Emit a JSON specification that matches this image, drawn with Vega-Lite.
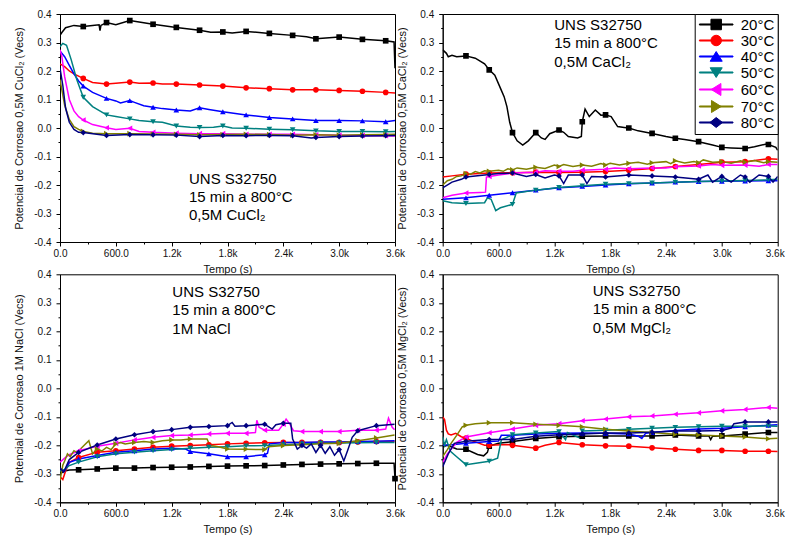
{
"$schema":"https://vega.github.io/schema/vega-lite/v6.json",
"padding":{"left":13,"top":8,"right":0,"bottom":5},
"bounds":"flush",
"spacing":{"row":32.3,"column":47.7},
"columns":2,
"resolve":{"legend":{"color":"independent","shape":"independent","stroke":"independent"}},
"config":{
 "font":"Liberation Sans",
 "view":{"stroke":"#000","strokeWidth":1},
 "axis":{"domainColor":"#000","tickColor":"#000","labelFontSize":10,"labelColor":"#111","titleFontSize":11,"titleFontWeight":"normal","titleColor":"#111","grid":false,"labelFont":"Liberation Sans","titleFont":"Liberation Sans","labelFlush":false,"labelOverlap":false},
 "axisX":{"labelPadding":2,"titlePadding":5},
 "axisY":{"labelPadding":5,"titlePadding":9}
},
"datasets":{
"cucl2":[
{"T":"20°C","t":0,"v":0.325},{"T":"20°C","t":20,"v":0.335},{"T":"20°C","t":60,"v":0.352},{"T":"20°C","t":150,"v":0.36},{"T":"20°C","t":250,"v":0.356},{"T":"20°C","t":350,"v":0.36},{"T":"20°C","t":420,"v":0.362},{"T":"20°C","t":430,"v":0.342},{"T":"20°C","t":440,"v":0.36},{"T":"20°C","t":500,"v":0.37},{"T":"20°C","t":600,"v":0.362},{"T":"20°C","t":750,"v":0.377},{"T":"20°C","t":850,"v":0.372},{"T":"20°C","t":1000,"v":0.364},{"T":"20°C","t":1250,"v":0.353},{"T":"20°C","t":1500,"v":0.343},{"T":"20°C","t":1620,"v":0.336},{"T":"20°C","t":1750,"v":0.337},{"T":"20°C","t":1850,"v":0.333},{"T":"20°C","t":2000,"v":0.339},{"T":"20°C","t":2250,"v":0.332},{"T":"20°C","t":2500,"v":0.325},{"T":"20°C","t":2650,"v":0.32},{"T":"20°C","t":2750,"v":0.313},{"T":"20°C","t":3000,"v":0.319},{"T":"20°C","t":3250,"v":0.311},{"T":"20°C","t":3500,"v":0.306},{"T":"20°C","t":3590,"v":0.302},{"T":"20°C","t":3600,"v":0.21},
{"T":"30°C","t":0,"v":0.225},{"T":"30°C","t":50,"v":0.215},{"T":"30°C","t":100,"v":0.2},{"T":"30°C","t":150,"v":0.19},{"T":"30°C","t":250,"v":0.174},{"T":"30°C","t":350,"v":0.16},{"T":"30°C","t":500,"v":0.154},{"T":"30°C","t":600,"v":0.157},{"T":"30°C","t":750,"v":0.161},{"T":"30°C","t":850,"v":0.157},{"T":"30°C","t":1000,"v":0.158},{"T":"30°C","t":1100,"v":0.154},{"T":"30°C","t":1250,"v":0.154},{"T":"30°C","t":1500,"v":0.151},{"T":"30°C","t":1750,"v":0.147},{"T":"30°C","t":2000,"v":0.141},{"T":"30°C","t":2250,"v":0.138},{"T":"30°C","t":2500,"v":0.134},{"T":"30°C","t":2750,"v":0.134},{"T":"30°C","t":3000,"v":0.132},{"T":"30°C","t":3250,"v":0.129},{"T":"30°C","t":3500,"v":0.125},{"T":"30°C","t":3600,"v":0.123},
{"T":"40°C","t":0,"v":0.27},{"T":"40°C","t":50,"v":0.25},{"T":"40°C","t":100,"v":0.22},{"T":"40°C","t":150,"v":0.19},{"T":"40°C","t":200,"v":0.165},{"T":"40°C","t":250,"v":0.147},{"T":"40°C","t":350,"v":0.125},{"T":"40°C","t":500,"v":0.104},{"T":"40°C","t":600,"v":0.095},{"T":"40°C","t":650,"v":0.088},{"T":"40°C","t":750,"v":0.096},{"T":"40°C","t":800,"v":0.09},{"T":"40°C","t":900,"v":0.078},{"T":"40°C","t":1000,"v":0.073},{"T":"40°C","t":1100,"v":0.068},{"T":"40°C","t":1250,"v":0.063},{"T":"40°C","t":1400,"v":0.06},{"T":"40°C","t":1500,"v":0.071},{"T":"40°C","t":1600,"v":0.065},{"T":"40°C","t":1750,"v":0.057},{"T":"40°C","t":2000,"v":0.046},{"T":"40°C","t":2250,"v":0.037},{"T":"40°C","t":2500,"v":0.032},{"T":"40°C","t":2750,"v":0.026},{"T":"40°C","t":3000,"v":0.026},{"T":"40°C","t":3250,"v":0.025},{"T":"40°C","t":3500,"v":0.022},{"T":"40°C","t":3600,"v":0.026},
{"T":"50°C","t":0,"v":0.285},{"T":"50°C","t":30,"v":0.297},{"T":"50°C","t":70,"v":0.29},{"T":"50°C","t":120,"v":0.24},{"T":"50°C","t":180,"v":0.17},{"T":"50°C","t":250,"v":0.108},{"T":"50°C","t":350,"v":0.075},{"T":"50°C","t":500,"v":0.046},{"T":"50°C","t":600,"v":0.04},{"T":"50°C","t":750,"v":0.032},{"T":"50°C","t":850,"v":0.026},{"T":"50°C","t":1000,"v":0.022},{"T":"50°C","t":1100,"v":0.02},{"T":"50°C","t":1250,"v":0.007},{"T":"50°C","t":1400,"v":0.003},{"T":"50°C","t":1500,"v":0.002},{"T":"50°C","t":1650,"v":0.003},{"T":"50°C","t":1750,"v":0.007},{"T":"50°C","t":1850,"v":0.0},{"T":"50°C","t":2000,"v":-0.001},{"T":"50°C","t":2250,"v":-0.004},{"T":"50°C","t":2500,"v":-0.006},{"T":"50°C","t":2750,"v":-0.01},{"T":"50°C","t":3000,"v":-0.012},{"T":"50°C","t":3250,"v":-0.012},{"T":"50°C","t":3500,"v":-0.013},{"T":"50°C","t":3600,"v":-0.012},
{"T":"60°C","t":0,"v":0.275},{"T":"60°C","t":20,"v":0.25},{"T":"60°C","t":50,"v":0.18},{"T":"60°C","t":100,"v":0.1},{"T":"60°C","t":150,"v":0.06},{"T":"60°C","t":200,"v":0.04},{"T":"60°C","t":250,"v":0.028},{"T":"60°C","t":350,"v":0.012},{"T":"60°C","t":500,"v":0.001},{"T":"60°C","t":600,"v":-0.005},{"T":"60°C","t":750,"v":-0.001},{"T":"60°C","t":850,"v":-0.012},{"T":"60°C","t":1000,"v":-0.015},{"T":"60°C","t":1250,"v":-0.018},{"T":"60°C","t":1500,"v":-0.02},{"T":"60°C","t":1750,"v":-0.02},{"T":"60°C","t":2000,"v":-0.022},{"T":"60°C","t":2250,"v":-0.022},{"T":"60°C","t":2500,"v":-0.022},{"T":"60°C","t":2750,"v":-0.024},{"T":"60°C","t":3000,"v":-0.025},{"T":"60°C","t":3250,"v":-0.026},{"T":"60°C","t":3500,"v":-0.027},{"T":"60°C","t":3600,"v":-0.028},
{"T":"70°C","t":0,"v":0.17},{"T":"70°C","t":50,"v":0.08},{"T":"70°C","t":100,"v":0.03},{"T":"70°C","t":150,"v":0.005},{"T":"70°C","t":200,"v":-0.005},{"T":"70°C","t":250,"v":-0.012},{"T":"70°C","t":350,"v":-0.018},{"T":"70°C","t":500,"v":-0.02},{"T":"70°C","t":750,"v":-0.02},{"T":"70°C","t":1000,"v":-0.021},{"T":"70°C","t":1250,"v":-0.022},{"T":"70°C","t":1500,"v":-0.024},{"T":"70°C","t":1750,"v":-0.023},{"T":"70°C","t":2000,"v":-0.022},{"T":"70°C","t":2250,"v":-0.023},{"T":"70°C","t":2500,"v":-0.025},{"T":"70°C","t":2750,"v":-0.024},{"T":"70°C","t":3000,"v":-0.025},{"T":"70°C","t":3250,"v":-0.024},{"T":"70°C","t":3500,"v":-0.023},{"T":"70°C","t":3600,"v":-0.022},
{"T":"80°C","t":0,"v":0.21},{"T":"80°C","t":30,"v":0.15},{"T":"80°C","t":60,"v":0.07},{"T":"80°C","t":100,"v":0.02},{"T":"80°C","t":150,"v":-0.005},{"T":"80°C","t":200,"v":-0.015},{"T":"80°C","t":250,"v":-0.016},{"T":"80°C","t":500,"v":-0.026},{"T":"80°C","t":750,"v":-0.023},{"T":"80°C","t":1000,"v":-0.024},{"T":"80°C","t":1250,"v":-0.025},{"T":"80°C","t":1500,"v":-0.03},{"T":"80°C","t":1750,"v":-0.026},{"T":"80°C","t":2000,"v":-0.027},{"T":"80°C","t":2250,"v":-0.026},{"T":"80°C","t":2500,"v":-0.027},{"T":"80°C","t":2700,"v":-0.035},{"T":"80°C","t":2750,"v":-0.033},{"T":"80°C","t":3000,"v":-0.03},{"T":"80°C","t":3250,"v":-0.028},{"T":"80°C","t":3500,"v":-0.027},{"T":"80°C","t":3600,"v":-0.026}
],
"cacl2":[
{"T":"20°C","t":0,"v":0.274},{"T":"20°C","t":40,"v":0.262},{"T":"20°C","t":60,"v":0.25},{"T":"20°C","t":100,"v":0.255},{"T":"20°C","t":150,"v":0.25},{"T":"20°C","t":250,"v":0.253},{"T":"20°C","t":350,"v":0.245},{"T":"20°C","t":450,"v":0.225},{"T":"20°C","t":500,"v":0.204},{"T":"20°C","t":560,"v":0.185},{"T":"20°C","t":620,"v":0.14},{"T":"20°C","t":660,"v":0.11},{"T":"20°C","t":690,"v":0.075},{"T":"20°C","t":720,"v":0.02},{"T":"20°C","t":750,"v":-0.016},{"T":"20°C","t":800,"v":-0.045},{"T":"20°C","t":860,"v":-0.06},{"T":"20°C","t":920,"v":-0.045},{"T":"20°C","t":1000,"v":-0.016},{"T":"20°C","t":1060,"v":-0.035},{"T":"20°C","t":1100,"v":-0.04},{"T":"20°C","t":1150,"v":-0.02},{"T":"20°C","t":1250,"v":-0.007},{"T":"20°C","t":1300,"v":-0.015},{"T":"20°C","t":1350,"v":-0.03},{"T":"20°C","t":1450,"v":-0.035},{"T":"20°C","t":1490,"v":-0.03},{"T":"20°C","t":1500,"v":0.022},{"T":"20°C","t":1530,"v":0.066},{"T":"20°C","t":1575,"v":0.04},{"T":"20°C","t":1640,"v":0.063},{"T":"20°C","t":1700,"v":0.045},{"T":"20°C","t":1750,"v":0.046},{"T":"20°C","t":1810,"v":0.04},{"T":"20°C","t":1880,"v":0.005},{"T":"20°C","t":1950,"v":0.002},{"T":"20°C","t":2000,"v":0.0},{"T":"20°C","t":2100,"v":-0.01},{"T":"20°C","t":2250,"v":-0.019},{"T":"20°C","t":2400,"v":-0.03},{"T":"20°C","t":2500,"v":-0.036},{"T":"20°C","t":2600,"v":-0.04},{"T":"20°C","t":2750,"v":-0.048},{"T":"20°C","t":2900,"v":-0.06},{"T":"20°C","t":3000,"v":-0.068},{"T":"20°C","t":3100,"v":-0.07},{"T":"20°C","t":3250,"v":-0.072},{"T":"20°C","t":3350,"v":-0.066},{"T":"20°C","t":3480,"v":-0.056},{"T":"20°C","t":3500,"v":-0.058},{"T":"20°C","t":3580,"v":-0.068},{"T":"20°C","t":3600,"v":-0.078},
{"T":"30°C","t":0,"v":-0.172},{"T":"30°C","t":100,"v":-0.168},{"T":"30°C","t":250,"v":-0.162},{"T":"30°C","t":500,"v":-0.158},{"T":"30°C","t":750,"v":-0.157},{"T":"30°C","t":1000,"v":-0.155},{"T":"30°C","t":1250,"v":-0.156},{"T":"30°C","t":1500,"v":-0.155},{"T":"30°C","t":1750,"v":-0.153},{"T":"30°C","t":2000,"v":-0.148},{"T":"30°C","t":2250,"v":-0.142},{"T":"30°C","t":2500,"v":-0.135},{"T":"30°C","t":2750,"v":-0.128},{"T":"30°C","t":3000,"v":-0.12},{"T":"30°C","t":3250,"v":-0.118},{"T":"30°C","t":3500,"v":-0.108},{"T":"30°C","t":3600,"v":-0.11},
{"T":"40°C","t":0,"v":-0.25},{"T":"40°C","t":250,"v":-0.245},{"T":"40°C","t":500,"v":-0.236},{"T":"40°C","t":750,"v":-0.227},{"T":"40°C","t":1000,"v":-0.218},{"T":"40°C","t":1250,"v":-0.21},{"T":"40°C","t":1500,"v":-0.205},{"T":"40°C","t":1750,"v":-0.2},{"T":"40°C","t":2000,"v":-0.196},{"T":"40°C","t":2250,"v":-0.193},{"T":"40°C","t":2500,"v":-0.19},{"T":"40°C","t":2750,"v":-0.188},{"T":"40°C","t":3000,"v":-0.187},{"T":"40°C","t":3250,"v":-0.186},{"T":"40°C","t":3500,"v":-0.185},{"T":"40°C","t":3600,"v":-0.185},
{"T":"50°C","t":0,"v":-0.255},{"T":"50°C","t":100,"v":-0.262},{"T":"50°C","t":250,"v":-0.265},{"T":"50°C","t":450,"v":-0.262},{"T":"50°C","t":480,"v":-0.245},{"T":"50°C","t":520,"v":-0.25},{"T":"50°C","t":570,"v":-0.29},{"T":"50°C","t":620,"v":-0.28},{"T":"50°C","t":750,"v":-0.268},{"T":"50°C","t":790,"v":-0.228},{"T":"50°C","t":1000,"v":-0.218},{"T":"50°C","t":1250,"v":-0.209},{"T":"50°C","t":1500,"v":-0.203},{"T":"50°C","t":1750,"v":-0.197},{"T":"50°C","t":2000,"v":-0.195},{"T":"50°C","t":2250,"v":-0.193},{"T":"50°C","t":2500,"v":-0.19},{"T":"50°C","t":2750,"v":-0.188},{"T":"50°C","t":3000,"v":-0.186},{"T":"50°C","t":3250,"v":-0.184},{"T":"50°C","t":3500,"v":-0.182},{"T":"50°C","t":3600,"v":-0.18},
{"T":"60°C","t":0,"v":-0.245},{"T":"60°C","t":100,"v":-0.236},{"T":"60°C","t":250,"v":-0.228},{"T":"60°C","t":400,"v":-0.226},{"T":"60°C","t":460,"v":-0.225},{"T":"60°C","t":470,"v":-0.172},{"T":"60°C","t":500,"v":-0.17},{"T":"60°C","t":600,"v":-0.165},{"T":"60°C","t":750,"v":-0.158},{"T":"60°C","t":1000,"v":-0.155},{"T":"60°C","t":1100,"v":-0.15},{"T":"60°C","t":1250,"v":-0.152},{"T":"60°C","t":1400,"v":-0.152},{"T":"60°C","t":1500,"v":-0.148},{"T":"60°C","t":1750,"v":-0.145},{"T":"60°C","t":1850,"v":-0.14},{"T":"60°C","t":2000,"v":-0.143},{"T":"60°C","t":2250,"v":-0.14},{"T":"60°C","t":2400,"v":-0.14},{"T":"60°C","t":2500,"v":-0.136},{"T":"60°C","t":2750,"v":-0.133},{"T":"60°C","t":2900,"v":-0.128},{"T":"60°C","t":3000,"v":-0.131},{"T":"60°C","t":3250,"v":-0.13},{"T":"60°C","t":3400,"v":-0.134},{"T":"60°C","t":3500,"v":-0.128},{"T":"60°C","t":3600,"v":-0.128},
{"T":"70°C","t":0,"v":-0.2},{"T":"70°C","t":50,"v":-0.185},{"T":"70°C","t":100,"v":-0.18},{"T":"70°C","t":150,"v":-0.17},{"T":"70°C","t":200,"v":-0.168},{"T":"70°C","t":250,"v":-0.16},{"T":"70°C","t":300,"v":-0.162},{"T":"70°C","t":350,"v":-0.153},{"T":"70°C","t":400,"v":-0.158},{"T":"70°C","t":450,"v":-0.15},{"T":"70°C","t":500,"v":-0.152},{"T":"70°C","t":600,"v":-0.148},{"T":"70°C","t":650,"v":-0.152},{"T":"70°C","t":700,"v":-0.143},{"T":"70°C","t":750,"v":-0.147},{"T":"70°C","t":800,"v":-0.14},{"T":"70°C","t":900,"v":-0.145},{"T":"70°C","t":1000,"v":-0.138},{"T":"70°C","t":1100,"v":-0.142},{"T":"70°C","t":1200,"v":-0.13},{"T":"70°C","t":1250,"v":-0.135},{"T":"70°C","t":1300,"v":-0.128},{"T":"70°C","t":1400,"v":-0.135},{"T":"70°C","t":1500,"v":-0.13},{"T":"70°C","t":1600,"v":-0.134},{"T":"70°C","t":1700,"v":-0.125},{"T":"70°C","t":1750,"v":-0.13},{"T":"70°C","t":1800,"v":-0.124},{"T":"70°C","t":1900,"v":-0.13},{"T":"70°C","t":2000,"v":-0.124},{"T":"70°C","t":2100,"v":-0.12},{"T":"70°C","t":2200,"v":-0.127},{"T":"70°C","t":2250,"v":-0.122},{"T":"70°C","t":2400,"v":-0.118},{"T":"70°C","t":2450,"v":-0.125},{"T":"70°C","t":2500,"v":-0.115},{"T":"70°C","t":2600,"v":-0.123},{"T":"70°C","t":2700,"v":-0.118},{"T":"70°C","t":2750,"v":-0.122},{"T":"70°C","t":2800,"v":-0.112},{"T":"70°C","t":2900,"v":-0.12},{"T":"70°C","t":3000,"v":-0.118},{"T":"70°C","t":3100,"v":-0.124},{"T":"70°C","t":3200,"v":-0.115},{"T":"70°C","t":3250,"v":-0.12},{"T":"70°C","t":3350,"v":-0.114},{"T":"70°C","t":3450,"v":-0.122},{"T":"70°C","t":3500,"v":-0.118},{"T":"70°C","t":3600,"v":-0.12},
{"T":"80°C","t":0,"v":-0.21},{"T":"80°C","t":100,"v":-0.19},{"T":"80°C","t":200,"v":-0.18},{"T":"80°C","t":250,"v":-0.172},{"T":"80°C","t":300,"v":-0.17},{"T":"80°C","t":450,"v":-0.165},{"T":"80°C","t":500,"v":-0.163},{"T":"80°C","t":600,"v":-0.16},{"T":"80°C","t":750,"v":-0.158},{"T":"80°C","t":900,"v":-0.17},{"T":"80°C","t":1000,"v":-0.163},{"T":"80°C","t":1100,"v":-0.175},{"T":"80°C","t":1200,"v":-0.165},{"T":"80°C","t":1250,"v":-0.168},{"T":"80°C","t":1300,"v":-0.195},{"T":"80°C","t":1350,"v":-0.165},{"T":"80°C","t":1500,"v":-0.165},{"T":"80°C","t":1550,"v":-0.195},{"T":"80°C","t":1600,"v":-0.17},{"T":"80°C","t":1750,"v":-0.172},{"T":"80°C","t":2000,"v":-0.165},{"T":"80°C","t":2250,"v":-0.168},{"T":"80°C","t":2500,"v":-0.172},{"T":"80°C","t":2750,"v":-0.18},{"T":"80°C","t":2850,"v":-0.165},{"T":"80°C","t":2900,"v":-0.19},{"T":"80°C","t":3000,"v":-0.17},{"T":"80°C","t":3100,"v":-0.19},{"T":"80°C","t":3200,"v":-0.165},{"T":"80°C","t":3250,"v":-0.172},{"T":"80°C","t":3300,"v":-0.19},{"T":"80°C","t":3400,"v":-0.165},{"T":"80°C","t":3500,"v":-0.17},{"T":"80°C","t":3550,"v":-0.19},{"T":"80°C","t":3600,"v":-0.17}
],
"nacl":[
{"T":"20°C","t":0,"v":-0.3},{"T":"20°C","t":50,"v":-0.29},{"T":"20°C","t":100,"v":-0.287},{"T":"20°C","t":200,"v":-0.286},{"T":"20°C","t":400,"v":-0.283},{"T":"20°C","t":600,"v":-0.28},{"T":"20°C","t":800,"v":-0.28},{"T":"20°C","t":1000,"v":-0.278},{"T":"20°C","t":1200,"v":-0.277},{"T":"20°C","t":1400,"v":-0.276},{"T":"20°C","t":1600,"v":-0.274},{"T":"20°C","t":1800,"v":-0.273},{"T":"20°C","t":2000,"v":-0.272},{"T":"20°C","t":2200,"v":-0.271},{"T":"20°C","t":2400,"v":-0.269},{"T":"20°C","t":2600,"v":-0.267},{"T":"20°C","t":2800,"v":-0.266},{"T":"20°C","t":3000,"v":-0.265},{"T":"20°C","t":3200,"v":-0.264},{"T":"20°C","t":3400,"v":-0.263},{"T":"20°C","t":3590,"v":-0.263},{"T":"20°C","t":3600,"v":-0.317},
{"T":"30°C","t":0,"v":-0.31},{"T":"30°C","t":30,"v":-0.32},{"T":"30°C","t":60,"v":-0.29},{"T":"30°C","t":100,"v":-0.26},{"T":"30°C","t":200,"v":-0.243},{"T":"30°C","t":400,"v":-0.224},{"T":"30°C","t":600,"v":-0.219},{"T":"30°C","t":800,"v":-0.213},{"T":"30°C","t":1000,"v":-0.207},{"T":"30°C","t":1200,"v":-0.203},{"T":"30°C","t":1400,"v":-0.201},{"T":"30°C","t":1600,"v":-0.198},{"T":"30°C","t":1800,"v":-0.195},{"T":"30°C","t":2000,"v":-0.193},{"T":"30°C","t":2200,"v":-0.191},{"T":"30°C","t":2400,"v":-0.19},{"T":"30°C","t":2600,"v":-0.19},{"T":"30°C","t":2800,"v":-0.19},{"T":"30°C","t":3000,"v":-0.19},{"T":"30°C","t":3200,"v":-0.188},{"T":"30°C","t":3400,"v":-0.187},{"T":"30°C","t":3595,"v":-0.186},
{"T":"40°C","t":0,"v":-0.288},{"T":"40°C","t":50,"v":-0.29},{"T":"40°C","t":100,"v":-0.26},{"T":"40°C","t":200,"v":-0.248},{"T":"40°C","t":400,"v":-0.236},{"T":"40°C","t":600,"v":-0.224},{"T":"40°C","t":800,"v":-0.219},{"T":"40°C","t":1000,"v":-0.213},{"T":"40°C","t":1200,"v":-0.21},{"T":"40°C","t":1350,"v":-0.213},{"T":"40°C","t":1400,"v":-0.222},{"T":"40°C","t":1600,"v":-0.23},{"T":"40°C","t":1800,"v":-0.24},{"T":"40°C","t":2000,"v":-0.24},{"T":"40°C","t":2200,"v":-0.233},{"T":"40°C","t":2230,"v":-0.228},{"T":"40°C","t":2250,"v":-0.195},{"T":"40°C","t":2400,"v":-0.19},{"T":"40°C","t":2600,"v":-0.19},{"T":"40°C","t":2800,"v":-0.188},{"T":"40°C","t":3000,"v":-0.188},{"T":"40°C","t":3200,"v":-0.187},{"T":"40°C","t":3400,"v":-0.186},{"T":"40°C","t":3595,"v":-0.184},
{"T":"50°C","t":0,"v":-0.29},{"T":"50°C","t":50,"v":-0.285},{"T":"50°C","t":100,"v":-0.271},{"T":"50°C","t":200,"v":-0.259},{"T":"50°C","t":400,"v":-0.24},{"T":"50°C","t":600,"v":-0.23},{"T":"50°C","t":800,"v":-0.224},{"T":"50°C","t":1000,"v":-0.219},{"T":"50°C","t":1200,"v":-0.215},{"T":"50°C","t":1400,"v":-0.21},{"T":"50°C","t":1600,"v":-0.207},{"T":"50°C","t":1800,"v":-0.205},{"T":"50°C","t":2000,"v":-0.202},{"T":"50°C","t":2200,"v":-0.201},{"T":"50°C","t":2400,"v":-0.198},{"T":"50°C","t":2600,"v":-0.195},{"T":"50°C","t":2800,"v":-0.193},{"T":"50°C","t":3000,"v":-0.192},{"T":"50°C","t":3200,"v":-0.191},{"T":"50°C","t":3400,"v":-0.19},{"T":"50°C","t":3595,"v":-0.19},
{"T":"60°C","t":0,"v":-0.259},{"T":"60°C","t":50,"v":-0.245},{"T":"60°C","t":100,"v":-0.233},{"T":"60°C","t":200,"v":-0.219},{"T":"60°C","t":400,"v":-0.203},{"T":"60°C","t":600,"v":-0.193},{"T":"60°C","t":800,"v":-0.181},{"T":"60°C","t":1000,"v":-0.172},{"T":"60°C","t":1200,"v":-0.166},{"T":"60°C","t":1400,"v":-0.164},{"T":"60°C","t":1600,"v":-0.16},{"T":"60°C","t":1800,"v":-0.158},{"T":"60°C","t":2000,"v":-0.158},{"T":"60°C","t":2100,"v":-0.155},{"T":"60°C","t":2115,"v":-0.112},{"T":"60°C","t":2140,"v":-0.137},{"T":"60°C","t":2200,"v":-0.147},{"T":"60°C","t":2350,"v":-0.147},{"T":"60°C","t":2400,"v":-0.126},{"T":"60°C","t":2430,"v":-0.108},{"T":"60°C","t":2470,"v":-0.126},{"T":"60°C","t":2510,"v":-0.149},{"T":"60°C","t":2600,"v":-0.152},{"T":"60°C","t":2800,"v":-0.152},{"T":"60°C","t":3000,"v":-0.152},{"T":"60°C","t":3200,"v":-0.147},{"T":"60°C","t":3400,"v":-0.147},{"T":"60°C","t":3500,"v":-0.143},{"T":"60°C","t":3530,"v":-0.105},{"T":"60°C","t":3570,"v":-0.137},{"T":"60°C","t":3595,"v":-0.145},
{"T":"70°C","t":0,"v":-0.323},{"T":"70°C","t":30,"v":-0.27},{"T":"70°C","t":50,"v":-0.255},{"T":"70°C","t":80,"v":-0.23},{"T":"70°C","t":110,"v":-0.24},{"T":"70°C","t":150,"v":-0.219},{"T":"70°C","t":180,"v":-0.225},{"T":"70°C","t":220,"v":-0.213},{"T":"70°C","t":260,"v":-0.2},{"T":"70°C","t":310,"v":-0.184},{"T":"70°C","t":350,"v":-0.23},{"T":"70°C","t":400,"v":-0.213},{"T":"70°C","t":450,"v":-0.22},{"T":"70°C","t":500,"v":-0.207},{"T":"70°C","t":550,"v":-0.215},{"T":"70°C","t":600,"v":-0.195},{"T":"70°C","t":650,"v":-0.19},{"T":"70°C","t":700,"v":-0.195},{"T":"70°C","t":800,"v":-0.19},{"T":"70°C","t":900,"v":-0.187},{"T":"70°C","t":1000,"v":-0.19},{"T":"70°C","t":1100,"v":-0.184},{"T":"70°C","t":1200,"v":-0.181},{"T":"70°C","t":1300,"v":-0.181},{"T":"70°C","t":1400,"v":-0.178},{"T":"70°C","t":1500,"v":-0.178},{"T":"70°C","t":1580,"v":-0.178},{"T":"70°C","t":1610,"v":-0.2},{"T":"70°C","t":1700,"v":-0.205},{"T":"70°C","t":1800,"v":-0.213},{"T":"70°C","t":2000,"v":-0.214},{"T":"70°C","t":2200,"v":-0.215},{"T":"70°C","t":2240,"v":-0.205},{"T":"70°C","t":2400,"v":-0.201},{"T":"70°C","t":2600,"v":-0.198},{"T":"70°C","t":2800,"v":-0.195},{"T":"70°C","t":3000,"v":-0.193},{"T":"70°C","t":3200,"v":-0.184},{"T":"70°C","t":3400,"v":-0.174},{"T":"70°C","t":3595,"v":-0.164},
{"T":"80°C","t":0,"v":-0.279},{"T":"80°C","t":40,"v":-0.294},{"T":"80°C","t":100,"v":-0.25},{"T":"80°C","t":200,"v":-0.225},{"T":"80°C","t":400,"v":-0.199},{"T":"80°C","t":600,"v":-0.178},{"T":"80°C","t":800,"v":-0.163},{"T":"80°C","t":1000,"v":-0.152},{"T":"80°C","t":1200,"v":-0.145},{"T":"80°C","t":1400,"v":-0.137},{"T":"80°C","t":1600,"v":-0.134},{"T":"80°C","t":1800,"v":-0.131},{"T":"80°C","t":1850,"v":-0.12},{"T":"80°C","t":1880,"v":-0.133},{"T":"80°C","t":2000,"v":-0.131},{"T":"80°C","t":2200,"v":-0.126},{"T":"80°C","t":2280,"v":-0.143},{"T":"80°C","t":2320,"v":-0.128},{"T":"80°C","t":2400,"v":-0.123},{"T":"80°C","t":2480,"v":-0.123},{"T":"80°C","t":2500,"v":-0.178},{"T":"80°C","t":2550,"v":-0.213},{"T":"80°C","t":2600,"v":-0.2},{"T":"80°C","t":2650,"v":-0.21},{"T":"80°C","t":2700,"v":-0.195},{"T":"80°C","t":2750,"v":-0.225},{"T":"80°C","t":2800,"v":-0.2},{"T":"80°C","t":2850,"v":-0.228},{"T":"80°C","t":2900,"v":-0.205},{"T":"80°C","t":2950,"v":-0.235},{"T":"80°C","t":3000,"v":-0.215},{"T":"80°C","t":3050,"v":-0.255},{"T":"80°C","t":3090,"v":-0.219},{"T":"80°C","t":3140,"v":-0.172},{"T":"80°C","t":3200,"v":-0.149},{"T":"80°C","t":3400,"v":-0.131},{"T":"80°C","t":3595,"v":-0.126}
],
"mgcl2":[
{"T":"20°C","t":0,"v":-0.205},{"T":"20°C","t":50,"v":-0.2},{"T":"20°C","t":150,"v":-0.213},{"T":"20°C","t":250,"v":-0.214},{"T":"20°C","t":375,"v":-0.232},{"T":"20°C","t":440,"v":-0.237},{"T":"20°C","t":480,"v":-0.225},{"T":"20°C","t":500,"v":-0.203},{"T":"20°C","t":600,"v":-0.193},{"T":"20°C","t":750,"v":-0.187},{"T":"20°C","t":1000,"v":-0.176},{"T":"20°C","t":1250,"v":-0.17},{"T":"20°C","t":1500,"v":-0.168},{"T":"20°C","t":1750,"v":-0.167},{"T":"20°C","t":2000,"v":-0.167},{"T":"20°C","t":2250,"v":-0.167},{"T":"20°C","t":2500,"v":-0.164},{"T":"20°C","t":2750,"v":-0.167},{"T":"20°C","t":2860,"v":-0.167},{"T":"20°C","t":2880,"v":-0.18},{"T":"20°C","t":2900,"v":-0.168},{"T":"20°C","t":3000,"v":-0.167},{"T":"20°C","t":3250,"v":-0.161},{"T":"20°C","t":3500,"v":-0.155},{"T":"20°C","t":3600,"v":-0.155},
{"T":"30°C","t":0,"v":-0.1},{"T":"30°C","t":20,"v":-0.11},{"T":"30°C","t":40,"v":-0.147},{"T":"30°C","t":60,"v":-0.16},{"T":"30°C","t":90,"v":-0.164},{"T":"30°C","t":140,"v":-0.158},{"T":"30°C","t":200,"v":-0.17},{"T":"30°C","t":250,"v":-0.175},{"T":"30°C","t":300,"v":-0.182},{"T":"30°C","t":450,"v":-0.2},{"T":"30°C","t":500,"v":-0.2},{"T":"30°C","t":700,"v":-0.197},{"T":"30°C","t":750,"v":-0.2},{"T":"30°C","t":1000,"v":-0.21},{"T":"30°C","t":1100,"v":-0.2},{"T":"30°C","t":1250,"v":-0.19},{"T":"30°C","t":1500,"v":-0.198},{"T":"30°C","t":1750,"v":-0.202},{"T":"30°C","t":2000,"v":-0.203},{"T":"30°C","t":2250,"v":-0.209},{"T":"30°C","t":2500,"v":-0.214},{"T":"30°C","t":2750,"v":-0.218},{"T":"30°C","t":3000,"v":-0.218},{"T":"30°C","t":3250,"v":-0.221},{"T":"30°C","t":3500,"v":-0.221},{"T":"30°C","t":3600,"v":-0.222},
{"T":"40°C","t":0,"v":-0.2},{"T":"40°C","t":100,"v":-0.198},{"T":"40°C","t":250,"v":-0.193},{"T":"40°C","t":500,"v":-0.187},{"T":"40°C","t":600,"v":-0.185},{"T":"40°C","t":630,"v":-0.165},{"T":"40°C","t":750,"v":-0.165},{"T":"40°C","t":1000,"v":-0.16},{"T":"40°C","t":1250,"v":-0.158},{"T":"40°C","t":1500,"v":-0.157},{"T":"40°C","t":1750,"v":-0.158},{"T":"40°C","t":2000,"v":-0.16},{"T":"40°C","t":2100,"v":-0.168},{"T":"40°C","t":2140,"v":-0.176},{"T":"40°C","t":2180,"v":-0.158},{"T":"40°C","t":2250,"v":-0.155},{"T":"40°C","t":2500,"v":-0.148},{"T":"40°C","t":2750,"v":-0.143},{"T":"40°C","t":3000,"v":-0.14},{"T":"40°C","t":3250,"v":-0.135},{"T":"40°C","t":3500,"v":-0.13},{"T":"40°C","t":3600,"v":-0.128},
{"T":"50°C","t":0,"v":-0.17},{"T":"50°C","t":20,"v":-0.2},{"T":"50°C","t":40,"v":-0.18},{"T":"50°C","t":80,"v":-0.22},{"T":"50°C","t":150,"v":-0.24},{"T":"50°C","t":250,"v":-0.268},{"T":"50°C","t":375,"v":-0.262},{"T":"50°C","t":500,"v":-0.256},{"T":"50°C","t":590,"v":-0.245},{"T":"50°C","t":630,"v":-0.181},{"T":"50°C","t":750,"v":-0.163},{"T":"50°C","t":1000,"v":-0.157},{"T":"50°C","t":1250,"v":-0.152},{"T":"50°C","t":1320,"v":-0.18},{"T":"50°C","t":1340,"v":-0.155},{"T":"50°C","t":1480,"v":-0.175},{"T":"50°C","t":1500,"v":-0.15},{"T":"50°C","t":1750,"v":-0.147},{"T":"50°C","t":2000,"v":-0.144},{"T":"50°C","t":2250,"v":-0.14},{"T":"50°C","t":2500,"v":-0.137},{"T":"50°C","t":2750,"v":-0.135},{"T":"50°C","t":3000,"v":-0.133},{"T":"50°C","t":3250,"v":-0.133},{"T":"50°C","t":3500,"v":-0.132},{"T":"50°C","t":3600,"v":-0.133},
{"T":"60°C","t":0,"v":-0.26},{"T":"60°C","t":50,"v":-0.23},{"T":"60°C","t":100,"v":-0.21},{"T":"60°C","t":150,"v":-0.19},{"T":"60°C","t":250,"v":-0.171},{"T":"60°C","t":500,"v":-0.156},{"T":"60°C","t":750,"v":-0.143},{"T":"60°C","t":1000,"v":-0.13},{"T":"60°C","t":1250,"v":-0.124},{"T":"60°C","t":1500,"v":-0.114},{"T":"60°C","t":1750,"v":-0.108},{"T":"60°C","t":2000,"v":-0.1},{"T":"60°C","t":2250,"v":-0.097},{"T":"60°C","t":2500,"v":-0.091},{"T":"60°C","t":2750,"v":-0.086},{"T":"60°C","t":3000,"v":-0.079},{"T":"60°C","t":3250,"v":-0.074},{"T":"60°C","t":3500,"v":-0.067},{"T":"60°C","t":3600,"v":-0.07},
{"T":"70°C","t":0,"v":-0.24},{"T":"70°C","t":50,"v":-0.215},{"T":"70°C","t":90,"v":-0.193},{"T":"70°C","t":150,"v":-0.165},{"T":"70°C","t":210,"v":-0.135},{"T":"70°C","t":250,"v":-0.13},{"T":"70°C","t":350,"v":-0.124},{"T":"70°C","t":500,"v":-0.121},{"T":"70°C","t":750,"v":-0.121},{"T":"70°C","t":1000,"v":-0.126},{"T":"70°C","t":1250,"v":-0.13},{"T":"70°C","t":1500,"v":-0.135},{"T":"70°C","t":1750,"v":-0.144},{"T":"70°C","t":2000,"v":-0.15},{"T":"70°C","t":2250,"v":-0.155},{"T":"70°C","t":2500,"v":-0.161},{"T":"70°C","t":2750,"v":-0.164},{"T":"70°C","t":3000,"v":-0.167},{"T":"70°C","t":3250,"v":-0.171},{"T":"70°C","t":3500,"v":-0.177},{"T":"70°C","t":3600,"v":-0.175},
{"T":"80°C","t":0,"v":-0.275},{"T":"80°C","t":60,"v":-0.23},{"T":"80°C","t":125,"v":-0.193},{"T":"80°C","t":250,"v":-0.186},{"T":"80°C","t":500,"v":-0.18},{"T":"80°C","t":750,"v":-0.18},{"T":"80°C","t":1000,"v":-0.168},{"T":"80°C","t":1250,"v":-0.163},{"T":"80°C","t":1500,"v":-0.16},{"T":"80°C","t":1750,"v":-0.157},{"T":"80°C","t":2000,"v":-0.157},{"T":"80°C","t":2250,"v":-0.154},{"T":"80°C","t":2500,"v":-0.15},{"T":"80°C","t":2750,"v":-0.15},{"T":"80°C","t":3000,"v":-0.148},{"T":"80°C","t":3100,"v":-0.14},{"T":"80°C","t":3130,"v":-0.124},{"T":"80°C","t":3250,"v":-0.118},{"T":"80°C","t":3500,"v":-0.118},{"T":"80°C","t":3600,"v":-0.118}
]
},
"concat":[
{
 "width":335,"height":228,
 "data":{"name":"cucl2"},
 "encoding":{
  "x":{"field":"t","type":"quantitative","scale":{"domain":[0,3600],"nice":false},"axis":{"title":"Tempo (s)","values":[0,300,600,900,1200,1500,1800,2100,2400,2700,3000,3300,3600],"labelExpr":"datum.value == 0 ? '0.0' : datum.value == 600 ? '600.0' : datum.value % 600 == 0 ? format(datum.value/1000, '.1f') + 'k' : ''","tickSize":{"condition":{"test":"datum.value % 600 != 0","value":2},"value":4}}},
  "y":{"field":"v","type":"quantitative","scale":{"domain":[-0.4,0.4],"nice":false},"axis":{"title":"Potencial de Corrosao 0,5M CuCl₂ (Vecs)","values":[-0.4,-0.35,-0.3,-0.25,-0.2,-0.15,-0.1,-0.05,0,0.05,0.1,0.15,0.2,0.25,0.3,0.35,0.4],"labelExpr":"abs(datum.value*10 - round(datum.value*10)) > 0.001 ? '' : datum.value < 0 ? '-' + format(-datum.value, '.1f') : format(datum.value, '.1f')","tickSize":{"condition":{"test":"abs(datum.value*10 - round(datum.value*10)) > 0.001","value":2},"value":4}}},
  "color":{"field":"T","type":"nominal","scale":{"domain":["20°C","30°C","40°C","50°C","60°C","70°C","80°C"],"range":["#000000","#FF0000","#0000FF","#008080","#FF00FF","#808000","#000080"]},"legend":null}
 },
 "layer":[
  {"mark":{"type":"line","strokeWidth":1.5,"clip":true}},
  {"transform":[{"filter":"datum.t > 0 && datum.t % 250 == 0"}],"mark":{"type":"point","filled":true,"size":32,"opacity":1,"clip":true},
   "encoding":{"shape":{"field":"T","type":"nominal","scale":{"domain":["20°C","30°C","40°C","50°C","60°C","70°C","80°C"],"range":["square","circle","triangle-up","triangle-down","triangle-left","triangle-right","diamond"]},"legend":null}}},
  {"transform":[{"filter":"datum.T == '20°C' && datum.t == 0"}],"mark":{"type":"text","align":"left","baseline":"alphabetic","fontSize":15,"lineHeight":18.3},
   "encoding":{"x":{"datum":1386},"y":{"datum":-0.195},"text":{"value":["UNS S32750","15 min a 800°C","0,5M CuCl₂"]},"color":{"value":"#000"}}}
 ]
},
{
 "width":335,"height":228,
 "data":{"name":"cacl2"},
 "resolve":{"scale":{"color":"independent","shape":"independent","stroke":"independent"}},
 "encoding":{
  "x":{"field":"t","type":"quantitative","scale":{"domain":[0,3600],"nice":false},"axis":{"title":"Tempo (s)","values":[0,300,600,900,1200,1500,1800,2100,2400,2700,3000,3300,3600],"labelExpr":"datum.value == 0 ? '0.0' : datum.value == 600 ? '600.0' : datum.value % 600 == 0 ? format(datum.value/1000, '.1f') + 'k' : ''","labelOffset":{"condition":{"test":"datum.value == 3600","value":-3},"value":0},"tickSize":{"condition":{"test":"datum.value % 600 != 0","value":2},"value":4}}},
  "y":{"field":"v","type":"quantitative","scale":{"domain":[-0.4,0.4],"nice":false},"axis":{"title":"Potencial de Corrosao 0,5M CaCl₂ (Vecs)","values":[-0.4,-0.35,-0.3,-0.25,-0.2,-0.15,-0.1,-0.05,0,0.05,0.1,0.15,0.2,0.25,0.3,0.35,0.4],"labelExpr":"abs(datum.value*10 - round(datum.value*10)) > 0.001 ? '' : datum.value < 0 ? '-' + format(-datum.value, '.1f') : format(datum.value, '.1f')","tickSize":{"condition":{"test":"abs(datum.value*10 - round(datum.value*10)) > 0.001","value":2},"value":4}}}
 },
 "layer":[
  {"mark":{"type":"line","strokeWidth":1.5,"clip":true},
   "encoding":{"color":{"field":"T","type":"nominal","scale":{"domain":["20°C","30°C","40°C","50°C","60°C","70°C","80°C"],"range":["#000000","#FF0000","#0000FF","#008080","#FF00FF","#808000","#000080"]},"legend":null}}},
  {"transform":[{"filter":"datum.t > 0 && datum.t % 250 == 0"}],"mark":{"type":"point","filled":true,"size":32,"opacity":1,"clip":true},
   "encoding":{"color":{"field":"T","type":"nominal","scale":{"domain":["20°C","30°C","40°C","50°C","60°C","70°C","80°C"],"range":["#000000","#FF0000","#0000FF","#008080","#FF00FF","#808000","#000080"]},"legend":null},
    "shape":{"field":"T","type":"nominal","scale":{"domain":["20°C","30°C","40°C","50°C","60°C","70°C","80°C"],"range":["square","circle","triangle-up","triangle-down","triangle-left","triangle-right","diamond"]},"legend":null}}},
  {"transform":[{"filter":"datum.T == '20°C' && datum.t == 0"}],"mark":{"type":"text","align":"left","baseline":"alphabetic","fontSize":15,"lineHeight":18.3},
   "encoding":{"x":{"datum":1199},"y":{"datum":0.344},"text":{"value":["UNS S32750","15 min a 800°C","0,5M CaCl₂"]},"color":{"value":"#000"}}},
  {"transform":[{"filter":"false"}],"mark":{"type":"point","filled":true,"opacity":1,"strokeWidth":1},
   "encoding":{
    "color":{"field":"T","type":"nominal","scale":{"domain":["20°C","30°C","40°C","50°C","60°C","70°C","80°C"],"range":["#000000","#FF0000","#0000FF","#008080","#FF00FF","#808000","#000080"]},
     "legend":{"orient":"top-right","offset":0,"title":null,"strokeColor":"#000","fillColor":"white","padding":3,"labelFontSize":15,"labelColor":"#000","symbolSize":110,"symbolStrokeWidth":1,"symbolOffset":11,"labelOffset":17,"rowPadding":0}},
    "stroke":{"field":"T","type":"nominal","scale":{"domain":["20°C","30°C","40°C","50°C","60°C","70°C","80°C"],"range":["#000000","#FF0000","#0000FF","#008080","#FF00FF","#808000","#000080"]},
     "legend":{"orient":"top-right","offset":0,"title":null,"strokeColor":"#000","fillColor":"white","padding":3,"labelFontSize":15,"labelColor":"#000","symbolSize":110,"symbolStrokeWidth":1,"symbolOffset":11,"labelOffset":17,"rowPadding":0}},
    "shape":{"field":"T","type":"nominal","scale":{"domain":["20°C","30°C","40°C","50°C","60°C","70°C","80°C"],"range":["M-3.2,-0.1H3.2V0.1H-3.2ZM-1,-1H1V1H-1Z","M-3.2,-0.1H3.2V0.1H-3.2ZM1,0A1,1,0,1,1,-1,0A1,1,0,1,1,1,0Z","M-3.2,-0.1H3.2V0.1H-3.2ZM0,-0.95L1.15,0.9H-1.15Z","M-3.2,-0.1H3.2V0.1H-3.2ZM0,0.95L-1.15,-0.9H1.15Z","M-3.2,-0.1H3.2V0.1H-3.2ZM-0.95,0L0.9,-1.15V1.15Z","M-3.2,-0.1H3.2V0.1H-3.2ZM0.95,0L-0.9,1.15V-1.15Z","M-3.2,-0.1H3.2V0.1H-3.2ZM0,-0.95L1.2,0L0,0.95L-1.2,0Z"]},
     "legend":{"orient":"top-right","offset":0,"title":null,"strokeColor":"#000","fillColor":"white","padding":3,"labelFontSize":15,"labelColor":"#000","symbolSize":110,"symbolStrokeWidth":1,"symbolOffset":11,"labelOffset":17,"rowPadding":0}}
   }}
 ]
},
{
 "width":335,"height":228,
 "data":{"name":"nacl"},
 "encoding":{
  "x":{"field":"t","type":"quantitative","scale":{"domain":[0,3600],"nice":false},"axis":{"title":"Tempo (s)","values":[0,300,600,900,1200,1500,1800,2100,2400,2700,3000,3300,3600],"labelExpr":"datum.value == 0 ? '0.0' : datum.value == 600 ? '600.0' : datum.value % 600 == 0 ? format(datum.value/1000, '.1f') + 'k' : ''","tickSize":{"condition":{"test":"datum.value % 600 != 0","value":2},"value":4}}},
  "y":{"field":"v","type":"quantitative","scale":{"domain":[-0.4,0.4],"nice":false},"axis":{"title":"Potencial de Corrosao 1M NaCl (Vecs)","values":[-0.4,-0.35,-0.3,-0.25,-0.2,-0.15,-0.1,-0.05,0,0.05,0.1,0.15,0.2,0.25,0.3,0.35,0.4],"labelExpr":"abs(datum.value*10 - round(datum.value*10)) > 0.001 ? '' : datum.value < 0 ? '-' + format(-datum.value, '.1f') : format(datum.value, '.1f')","tickSize":{"condition":{"test":"abs(datum.value*10 - round(datum.value*10)) > 0.001","value":2},"value":4}}},
  "color":{"field":"T","type":"nominal","scale":{"domain":["20°C","30°C","40°C","50°C","60°C","70°C","80°C"],"range":["#000000","#FF0000","#0000FF","#008080","#FF00FF","#808000","#000080"]},"legend":null}
 },
 "layer":[
  {"mark":{"type":"line","strokeWidth":1.5,"clip":true}},
  {"transform":[{"filter":"datum.t > 0 && datum.t % 200 == 0"}],"mark":{"type":"point","filled":true,"size":32,"opacity":1,"clip":false},
   "encoding":{"shape":{"field":"T","type":"nominal","scale":{"domain":["20°C","30°C","40°C","50°C","60°C","70°C","80°C"],"range":["square","circle","triangle-up","triangle-down","triangle-left","triangle-right","diamond"]},"legend":null}}},
  {"transform":[{"filter":"datum.T == '20°C' && datum.t == 0"}],"mark":{"type":"text","align":"left","baseline":"alphabetic","fontSize":15,"lineHeight":18.3},
   "encoding":{"x":{"datum":1207},"y":{"datum":0.32},"text":{"value":["UNS S32750","15 min a 800°C","1M NaCl"]},"color":{"value":"#000"}}}
 ]
},
{
 "width":335,"height":228,
 "data":{"name":"mgcl2"},
 "encoding":{
  "x":{"field":"t","type":"quantitative","scale":{"domain":[0,3600],"nice":false},"axis":{"title":"Tempo (s)","values":[0,300,600,900,1200,1500,1800,2100,2400,2700,3000,3300,3600],"labelExpr":"datum.value == 0 ? '0.0' : datum.value == 600 ? '600.0' : datum.value % 600 == 0 ? format(datum.value/1000, '.1f') + 'k' : ''","labelOffset":{"condition":{"test":"datum.value == 3600","value":-3},"value":0},"tickSize":{"condition":{"test":"datum.value % 600 != 0","value":2},"value":4}}},
  "y":{"field":"v","type":"quantitative","scale":{"domain":[-0.4,0.4],"nice":false},"axis":{"title":"Potencial de Corrosao 0,5M MgCl₂ (Vecs)","values":[-0.4,-0.35,-0.3,-0.25,-0.2,-0.15,-0.1,-0.05,0,0.05,0.1,0.15,0.2,0.25,0.3,0.35,0.4],"labelExpr":"abs(datum.value*10 - round(datum.value*10)) > 0.001 ? '' : datum.value < 0 ? '-' + format(-datum.value, '.1f') : format(datum.value, '.1f')","tickSize":{"condition":{"test":"abs(datum.value*10 - round(datum.value*10)) > 0.001","value":2},"value":4}}},
  "color":{"field":"T","type":"nominal","scale":{"domain":["20°C","30°C","40°C","50°C","60°C","70°C","80°C"],"range":["#000000","#FF0000","#0000FF","#008080","#FF00FF","#808000","#000080"]},"legend":null}
 },
 "layer":[
  {"mark":{"type":"line","strokeWidth":1.5,"clip":true}},
  {"transform":[{"filter":"datum.t > 0 && datum.t % 250 == 0"}],"mark":{"type":"point","filled":true,"size":32,"opacity":1,"clip":true},
   "encoding":{"shape":{"field":"T","type":"nominal","scale":{"domain":["20°C","30°C","40°C","50°C","60°C","70°C","80°C"],"range":["square","circle","triangle-up","triangle-down","triangle-left","triangle-right","diamond"]},"legend":null}}},
  {"transform":[{"filter":"datum.T == '20°C' && datum.t == 0"}],"mark":{"type":"text","align":"left","baseline":"alphabetic","fontSize":15,"lineHeight":18.3},
   "encoding":{"x":{"datum":1612},"y":{"datum":0.324},"text":{"value":["UNS S32750","15 min a 800°C","0,5M MgCl₂"]},"color":{"value":"#000"}}}
 ]
}
]
}
